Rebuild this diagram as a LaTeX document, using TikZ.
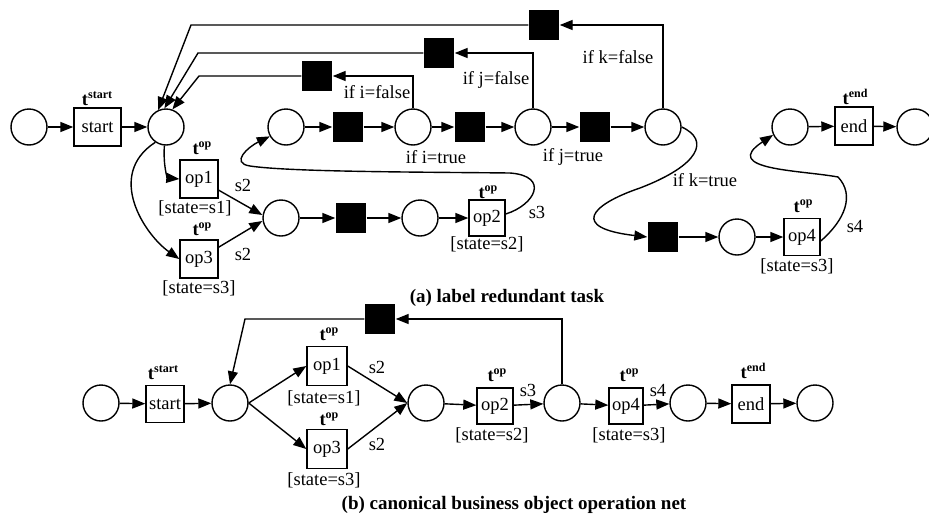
\documentclass[tikz,border=0pt]{standalone}
\usepackage{fontspec}
\setmainfont{Liberation Serif}
\usetikzlibrary{arrows.meta}
% bold transition type label with raised superscript
\newcommand\tsup[1]{\textbf{t\raisebox{7pt}{\fontsize{12}{12}\selectfont\bfseries #1}}}

\begin{document}
\begin{tikzpicture}[x=1pt,y=-1pt,line width=1.4pt,
  every node/.style={font=\fontsize{18.5}{20}\selectfont},
  place/.style={circle,draw,minimum size=36pt,inner sep=0pt},
  trans/.style={rectangle,draw,minimum width=38pt,minimum height=38pt,inner sep=0pt},
  silent/.style={rectangle,fill=black,minimum size=30pt,inner sep=0pt},
  lbl/.style={inner sep=0pt},
  caption/.style={inner sep=0pt,anchor=base,font=\fontsize{19}{21}\selectfont\bfseries},
  arr/.style={-{Triangle[length=13pt,width=10pt]}}]
\useasboundingbox (0,0) rectangle (929,517);

%% ---------- (a) label redundant task ----------
\node[place] (p0) at (29,127) {};
\node[trans,minimum width=47pt] (ts) at (97.5,127) {start};
\node[place] (p1) at (166,127) {};
\node[trans] (op1) at (199,179) {op1};
\node[trans] (op3) at (199,259) {op3};
\node[place] (p2) at (281,218) {};
\node[silent] (sq1) at (351,218) {};
\node[place] (p3) at (420,218) {};
\node[trans,minimum size=36pt] (op2) at (487,218) {op2};

\node[place] (c1) at (286,127) {};
\node[silent] (b1) at (348,127) {};
\node[place] (c2) at (413,127) {};
\node[silent] (b2) at (470,127) {};
\node[place] (c3) at (533,127) {};
\node[silent] (b3) at (595,127) {};
\node[place] (c4) at (663,127) {};

\node[silent] (bi) at (317,76) {};
\node[silent] (bj) at (439,53) {};
\node[silent] (bk) at (544,25) {};

\node[silent] (b4) at (663,237) {};
\node[place] (c5) at (737,237) {};
\node[trans,minimum width=36pt,minimum height=37pt] (op4) at (802,237) {op4};

\node[place] (c6) at (790,127) {};
\node[trans] (te) at (854,126) {end};
\node[place] (c7) at (915,127) {};

% labels of (a)
\node[lbl] (lts) at (97,99) {\tsup{start}};
\node[lbl] (lop1) at (202,148) {\tsup{op}};
\node[lbl] (gop1) at (195,208) {[state=s1]};
\node[lbl] (lop3) at (202,229) {\tsup{op}};
\node[lbl] (gop3) at (199,288) {[state=s3]};
\node[lbl] (s2a) at (243,185) {s2};
\node[lbl] (s2b) at (243,254) {s2};
\node[lbl] (lop2) at (488,192) {\tsup{op}};
\node[lbl] (gop2) at (487,244) {[state=s2]};
\node[lbl] (s3) at (537,212) {s3};
\node[lbl] (ifif) at (377,92) {if i=false};
\node[lbl] (ifjf) at (496,80) {if j=false};
\node[lbl] (ifkf) at (618,57) {if k=false};
\node[lbl] (ifit) at (436,157) {if i=true};
\node[lbl] (ifjt) at (573,157) {if j=true};
\node[lbl] (ifkt) at (705,180) {if k=true};
\node[lbl] (lop4) at (803,206) {\tsup{op}};
\node[lbl] (gop4) at (797,266) {[state=s3]};
\node[lbl] (s4) at (855,226) {s4};
\node[lbl] (lte) at (855,97) {\tsup{end}};
\node[caption] (capa) at (507,302) {(a) label redundant task};

% arcs of (a)
\draw[arr] (p0) -- (ts);
\draw[arr] (ts) -- (p1);
\draw[arr] (p1.265) .. controls (163,168) and (168,178) .. (op1.west);
\draw[arr] (p1.235) .. controls (105,175) and (145,235) .. (op3.west);
\draw[arr] (op1) -- ([yshift=3pt]p2.west);
\draw[arr] (op3) -- ([yshift=-3pt]p2.west);
\draw[arr] (p2) -- (sq1);
\draw[arr] (sq1) -- (p3);
\draw[arr] (p3) -- (op2);
\draw[arr] ([yshift=4pt]op2.east) .. controls (535,205) and (550,176) .. (510,173)
  .. controls (420,172) and (290,172) .. (250,166)
  .. controls (230,163) and (248,147) .. (c1.210);
\draw[arr] (c1) -- (b1);
\draw[arr] (b1) -- (c2);
\draw[arr] (c2) -- (b2);
\draw[arr] (b2) -- (c3);
\draw[arr] (c3) -- (b3);
\draw[arr] (b3) -- (c4);
\draw[arr] (c2.north) |- (bi.east);
\draw[arr] (bi.west) -- (199,76) -- (p1.70);
\draw[arr] (c3.north) |- (bj.east);
\draw[arr] (bj.west) -- (198,53) -- (p1.95);
\draw[arr] (c4.north) |- (bk.east);
\draw[arr] (bk.west) -- (191,25) -- (p1.115);
\draw[arr] (c4.east) .. controls (710,140) and (700,165) .. (640,188)
  .. controls (590,205) and (570,228) .. (b4.west);
\draw[arr] (b4) -- (c5);
\draw[arr] (c5) -- (op4);
\draw[arr] ([yshift=-4pt]op4.east) .. controls (845,220) and (855,195) .. (838,177)
  .. controls (800,170) and (720,170) .. (c6.205);
\draw[arr] (c6) -- (te);
\draw[arr] (te) -- (c7);

%% ---------- (b) canonical business object operation net ----------
\node[place] (q0) at (101,403) {};
\node[trans,minimum height=37pt] (sb) at (165,404) {start};
\node[place] (q1) at (230,403) {};
\node[trans,minimum width=40pt,minimum height=39pt] (op1b) at (327,366) {op1};
\node[trans,minimum width=40pt,minimum height=39pt] (op3b) at (327,449) {op3};
\node[place] (q2) at (426,403) {};
\node[trans,minimum size=36pt] (op2b) at (495,406) {op2};
\node[place] (q3) at (562,403) {};
\node[trans,minimum width=34pt,minimum height=36pt] (op4b) at (626,406) {op4};
\node[place] (q4) at (688,403) {};
\node[trans] (eb) at (751,404) {end};
\node[place] (q5) at (815,403) {};
\node[silent] (bb) at (380,319) {};

% labels of (b)
\node[lbl] (lsb) at (163,373) {\tsup{start}};
\node[lbl] (lop1b) at (329,334) {\tsup{op}};
\node[lbl] (gop1b) at (324,398) {[state=s1]};
\node[lbl] (lop3b) at (329,419) {\tsup{op}};
\node[lbl] (gop3b) at (324,480) {[state=s3]};
\node[lbl] (s2c) at (377,367) {s2};
\node[lbl] (s2d) at (377,444) {s2};
\node[lbl] (lop2b) at (497,375) {\tsup{op}};
\node[lbl] (gop2b) at (492,435) {[state=s2]};
\node[lbl] (s3b) at (528,390) {s3};
\node[lbl] (lop4b) at (629,375) {\tsup{op}};
\node[lbl] (gop4b) at (629,435) {[state=s3]};
\node[lbl] (s4b) at (658,390) {s4};
\node[lbl] (leb) at (753,371) {\tsup{end}};
\node[caption] (capb) at (514,509) {(b) canonical business object operation net};

% arcs of (b)
\draw[arr] (q0) -- (sb);
\draw[arr] (sb) -- (q1);
\draw[arr] (q1.east) -- (op1b.west);
\draw[arr] (q1.east) -- (op3b.west);
\draw[arr] (op1b.east) -- (q2.west);
\draw[arr] (op3b.east) -- (q2.west);
\draw[arr] (q2) -- (op2b);
\draw[arr] (op2b) -- (q3);
\draw[arr] (q3) -- (op4b);
\draw[arr] (op4b) -- (q4);
\draw[arr] (q4) -- (eb);
\draw[arr] (eb) -- (q5);
\draw[arr] (q3.north) |- (bb.east);
\draw[arr] (bb.west) -- (245,319) -- (q1.north);
\end{tikzpicture}
\end{document}
